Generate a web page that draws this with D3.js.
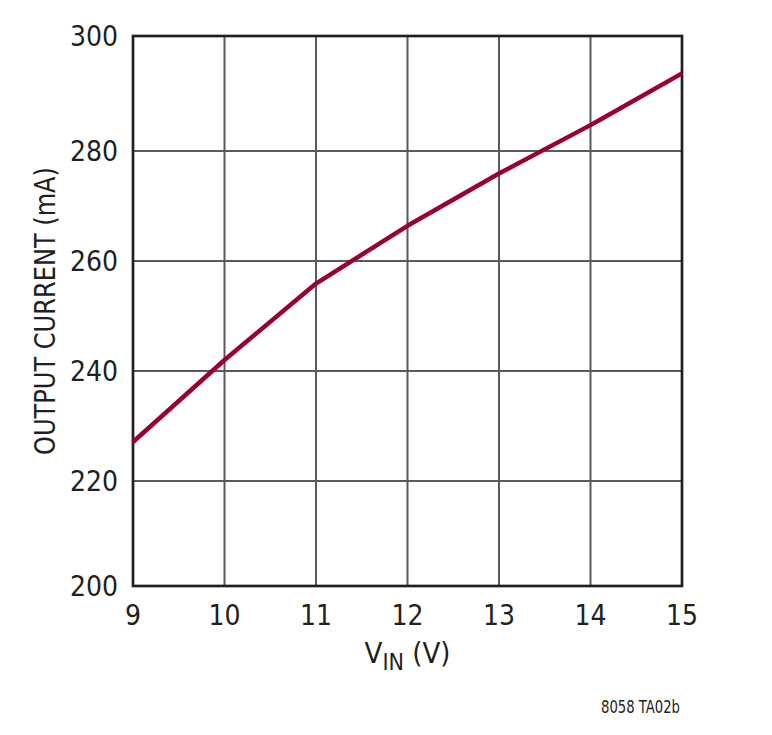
<!DOCTYPE html>
<html>
<head>
<meta charset="utf-8">
<script src="https://cdn.jsdelivr.net/npm/d3@7"></script>
<style>
  body { margin: 0; background: #fff; }
  svg text { font-family: "DejaVu Sans Condensed", "Liberation Sans Narrow", sans-serif; font-stretch: condensed; fill: #231f20; }
</style>
</head>
<body>
<svg id="chart" width="772" height="735"></svg>
<script>
// input voltage (V) and output current (mA)
var vin = [9, 10, 11, 12, 13, 14, 14.1, 15];
var current = [227.1, 242.0, 255.9, 266.4, 275.9, 284.5, 285.4, 293.5];

var xTicks = [9, 10, 11, 12, 13, 14, 15];
var yTicks = [200, 220, 240, 260, 280, 300];

(function () {
  var svg = d3.select('#chart');

  var m = {left: 133, right: 682, top: 36, bottom: 586};

  var x = d3.scaleLinear().domain([9, 15]).range([m.left, m.right]);
  // the printed grid is slightly uneven, so pin the scale at its lines
  var y = d3.scaleLinear()
    .domain([200, 220, 280, 300])
    .range([m.bottom, 481, 151, m.top]);

  // grid
  svg.append('g')
    .selectAll('line')
    .data(xTicks.slice(1, -1))
    .enter()
    .append('line')
    .attr('x1', function (d) { return x(d); })
    .attr('x2', function (d) { return x(d); })
    .attr('y1', m.top)
    .attr('y2', m.bottom)
    .attr('stroke', '#5a5a5a')
    .attr('stroke-width', 2);

  svg.append('g')
    .selectAll('line')
    .data(yTicks.slice(1, -1))
    .enter()
    .append('line')
    .attr('x1', m.left)
    .attr('x2', m.right)
    .attr('y1', function (d) { return y(d); })
    .attr('y2', function (d) { return y(d); })
    .attr('stroke', '#5a5a5a')
    .attr('stroke-width', 2);

  // frame
  svg.append('rect')
    .attr('x', m.left)
    .attr('y', m.top)
    .attr('width', m.right - m.left)
    .attr('height', m.bottom - m.top)
    .attr('fill', 'none')
    .attr('stroke', '#231f20')
    .attr('stroke-width', 2.7);

  // curve
  var line = d3.line()
    .x(function (d, i) { return x(vin[i]); })
    .y(function (d) { return y(d); });

  svg.append('path')
    .datum(current)
    .attr('d', line)
    .attr('fill', 'none')
    .attr('stroke', '#990033')
    .attr('stroke-width', 4.5)
    .attr('stroke-linejoin', 'round');

  // tick labels
  svg.append('g')
    .selectAll('text')
    .data(yTicks)
    .enter()
    .append('text')
    .attr('x', 118)
    .attr('y', function (d) { return y(d); })
    .attr('dy', '0.36em')
    .attr('text-anchor', 'end')
    .attr('font-size', 28)
    .text(function (d) { return d; });

  svg.append('g')
    .selectAll('text')
    .data(xTicks)
    .enter()
    .append('text')
    .attr('x', function (d) { return x(d); })
    .attr('y', 625)
    .attr('text-anchor', 'middle')
    .attr('font-size', 28)
    .text(function (d) { return d; });

  // axis titles
  svg.append('text')
    .attr('transform', 'translate(55,' + ((m.top + m.bottom) / 2) + ') rotate(-90)')
    .attr('text-anchor', 'middle')
    .attr('font-size', 29)
    .attr('textLength', 288)
    .attr('lengthAdjust', 'spacingAndGlyphs')
    .text('OUTPUT CURRENT (mA)');

  var xt = svg.append('text')
    .attr('x', (m.left + m.right) / 2)
    .attr('y', 663)
    .attr('text-anchor', 'middle')
    .attr('font-size', 29);
  xt.append('tspan').text('V');
  xt.append('tspan').attr('font-size', 23).attr('dy', 7).text('IN');
  xt.append('tspan').attr('dy', -7).text(' (V)');

  svg.append('text')
    .attr('x', 680)
    .attr('y', 713)
    .attr('text-anchor', 'end')
    .attr('font-size', 17)
    .attr('textLength', 79)
    .attr('lengthAdjust', 'spacingAndGlyphs')
    .text('8058 TA02b');
})();
</script>
</body>
</html>
